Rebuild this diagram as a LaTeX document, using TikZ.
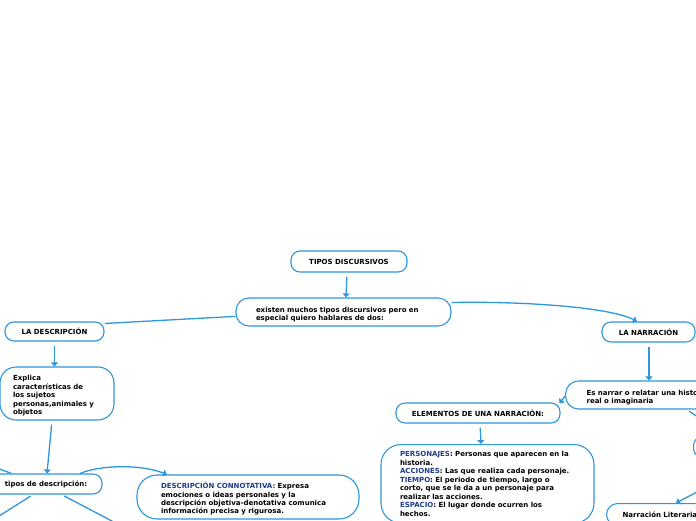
\documentclass[tikz,border=0pt]{standalone}
\usepackage{fontspec}
\setmainfont{DejaVu Sans}
\usetikzlibrary{arrows.meta,calc}
\definecolor{edge}{RGB}{45,150,220}
\definecolor{kwc}{RGB}{30,60,140}
\newcommand{\kwd}[1]{\textcolor{kwc}{#1}}
\newcommand{\topstrut}{\rule{0pt}{10pt}}
\tikzset{
  box/.style={draw=edge, line width=1.1pt, fill=white, text=black,
    font=\fontsize{7}{8.45}\selectfont\bfseries, inner ysep=2pt},
  conn/.style={draw=edge, line width=1.3pt, -{Triangle[length=4pt,width=7pt]}},
  plain/.style={draw=edge, line width=1.3pt},
}
\begin{document}
\begin{tikzpicture}[x=1pt,y=-1pt]
\useasboundingbox (0,0) rectangle (696,520);
\clip (0,0) rectangle (696,520);

\node[box, minimum width=116pt, minimum height=21pt, rounded corners=9pt] (tipos) at (349,261.5) {TIPOS DISCURSIVOS};
\node[box, text width=175pt, inner xsep=20pt, align=left, minimum height=28pt, rounded corners=13pt] (existen) at (343.5,312) {\topstrut existen muchos tipos discursivos pero en\\especial quiero hablares de dos:};
\node[box, minimum width=99pt, minimum height=19pt, rounded corners=9pt] (ladesc) at (54.5,331.5) {LA DESCRIPCIÓN};
\node[box, minimum width=93pt, minimum height=20pt, rounded corners=9pt] (lanarr) at (648.5,332) {LA NARRACIÓN};
\node[box, text width=88pt, inner xsep=13pt, align=left, minimum height=53pt, rounded corners=16pt] (explica) at (57,393.5) {\topstrut Explica\\características de\\los sujetos\\personas,animales y\\objetos};
\node[box, minimum width=112pt, minimum height=20pt, rounded corners=9pt] (tiposdesc) at (46,484) {tipos de descripción:};
\node[box, text width=174pt, inner xsep=24pt, align=left, minimum height=44pt, rounded corners=20pt] (connot) at (248,497) {\topstrut\kwd{DESCRIPCIÓN CONNOTATIVA:} Expresa\\emociones o ideas personales y la\\descripción objetiva-denotativa comunica\\información precisa y rigurosa.};
\node[box, text width=180pt, inner xsep=21pt, align=left, minimum height=28pt, rounded corners=13pt, anchor=west] (esnarrar) at (565,395) {\topstrut Es narrar o relatar una historia\\real o imaginaria};
\node[box, minimum width=164pt, minimum height=20pt, rounded corners=9pt] (elementos) at (478,413) {ELEMENTOS DE UNA NARRACIÓN:};
\node[box, text width=175pt, inner xsep=19pt, inner ysep=7pt, align=left, rounded corners=20pt, anchor=north] (personajes) at (487.5,444) {\kwd{PERSONAJES}: Personas que aparecen en la\\historia.\\\kwd{ACCIONES}: Las que realiza cada personaje.\\\kwd{TIEMPO}: El periodo de tiempo, largo o\\corto, que se le da a un personaje para\\realizar las acciones.\\\kwd{ESPACIO}: El lugar donde ocurren los\\hechos.};
\node[box, text width=100pt, inner xsep=16pt, align=left, minimum height=22pt, rounded corners=11pt, anchor=north west] (narrlit) at (606,503) {Narración Literaria};
\node[box, minimum width=60pt, minimum height=21pt, rounded corners=9pt, anchor=west] (rnode) at (693,447) {};

\coordinate (dl) at (-12,523);
\coordinate (dr) at (120,525.3);
\coordinate (tl) at (-12,464.8);
\coordinate (ro) at (720,480);

\draw[conn, shorten <=4pt] ([xshift=-2pt]tipos.south) -- ([xshift=2.5pt]existen.north);
\draw[plain] ($(ladesc.north east)!0.1!(ladesc.south east)$) -- ($(existen.west)!0.3!(existen.south west)$);
\draw[conn] ($(existen.east)!0.65!(existen.north east)$) .. controls (520,301) and (610,307) .. ([xshift=-11.5pt]lanarr.north);
\draw[conn, shorten <=4pt] (ladesc.south) -- ([xshift=-2.5pt]explica.north);
\draw[conn, shorten <=4pt] ([xshift=-5pt]explica.south) -- ([xshift=1pt]tiposdesc.north);
\draw[conn] ([xshift=34pt]tiposdesc.north) .. controls (100,465) and (140,464) .. ([xshift=-81pt]connot.north);
\draw[plain, shorten <=3pt] ([xshift=-13pt]tiposdesc.south) -- (dl);
\draw[plain, shorten <=3pt] ([xshift=15.5pt]tiposdesc.south) -- (dr);
\draw[plain] (tl) -- ($(tiposdesc.north west)+(22,0)$);
\draw[conn, shorten <=4pt] ([xshift=0.5pt]lanarr.south) -- ([xshift=0.5pt]lanarr.south |- esnarrar.north);
\draw[conn] ([yshift=-1pt]esnarrar.west) -- ($(elementos.north east)+(-1,1)$);
\draw[conn, shorten <=4pt] ([xshift=2pt]elementos.south) -- ([xshift=-6.5pt]personajes.north);
\draw[conn, shorten <=3pt] ([xshift=10pt]esnarrar.south) -- ($(rnode.north west)+(34,0)$);
\draw[conn] (ro) -- ($(narrlit.north west)+(70,0)$);
\end{tikzpicture}
\end{document}
